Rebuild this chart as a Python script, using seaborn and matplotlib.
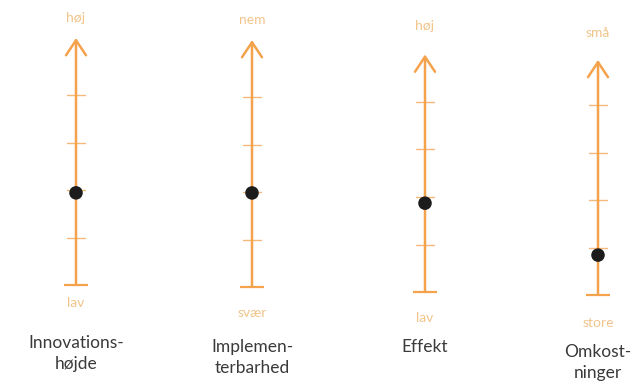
import matplotlib
matplotlib.use("Agg")
import matplotlib.pyplot as plt
import seaborn as sns
import pandas as pd

# ---- data ----
categories = ["Innovations-\nhøjde", "Implemen-\nterbarhed", "Effekt", "Omkost-\nninger"]
values = [1.94, 1.98, 1.87, 0.84]
top_labels = ["høj", "nem", "høj", "små"]
bottom_labels = ["lav", "svær", "lav", "store"]
tick_values = [1, 2, 3, 4]

# ---- layout (pixels) ----
W, H = 643, 386
PX_PER_UNIT = 47.5
x_centers = [76, 252, 425, 598]
base_px = [285, 287, 292, 295]
arrow_top = [5.2, 5.2, 5.0, 4.95]
top_off = [20, 20, 28, 27]
bot_off = [18, 26, 26, 28]
cat_off = [50, 52, 47, 49]

ORANGE = "#f4a24c"
LIGHT = "#f2c48a"
DARK = "#3a3a3a"

sns.set_theme(style="white")
plt.rcParams["font.family"] = ["Lato", "DejaVu Sans"]

fig = plt.figure(figsize=(W / 100, H / 100), dpi=100)
fig.patch.set_facecolor("white")

col_w = 150
for i, cat in enumerate(categories):
    ax = fig.add_axes([(x_centers[i] - col_w / 2) / W, 0, col_w / W, 1])
    ax.set_facecolor("none")
    ax.set_xlim(-col_w / 2, col_w / 2)
    ax.set_ylim(-(H - base_px[i]) / PX_PER_UNIT, base_px[i] / PX_PER_UNIT)

    # main axis with arrow
    ax.annotate("", xy=(0, arrow_top[i]), xytext=(0, 0),
                arrowprops=dict(arrowstyle="->,head_length=0.9,head_width=0.6",
                                color=ORANGE, lw=1.8, shrinkA=0, shrinkB=0))
    # base tick
    ax.plot([-12, 12], [0, 0], color=ORANGE, lw=1.6, solid_capstyle="butt")
    # ticks
    for t in tick_values:
        ax.plot([-9, 9], [t, t], color=ORANGE, lw=1.0, alpha=0.75)

    # dot
    df = pd.DataFrame({"x": [0], "y": [values[i]]})
    sns.scatterplot(data=df, x="x", y="y", ax=ax, s=95, color="#1c1c1c",
                    edgecolor="none", legend=False, zorder=5)
    ax.set_xlabel("")
    ax.set_ylabel("")
    ax.axis("off")

    ax.annotate(top_labels[i], xy=(0, arrow_top[i]), xytext=(0, top_off[i] * 0.72),
                textcoords="offset points", ha="center", va="center",
                color=LIGHT, fontsize=10)
    ax.annotate(bottom_labels[i], xy=(0, 0), xytext=(0, -bot_off[i] * 0.72),
                textcoords="offset points", ha="center", va="center",
                color=LIGHT, fontsize=10)
    ax.annotate(cat, xy=(0, 0), xytext=(0, -cat_off[i] * 0.72),
                textcoords="offset points", ha="center", va="top",
                color=DARK, fontsize=12.5, linespacing=1.4)

fig.savefig("out.png", dpi=100, facecolor="white")
